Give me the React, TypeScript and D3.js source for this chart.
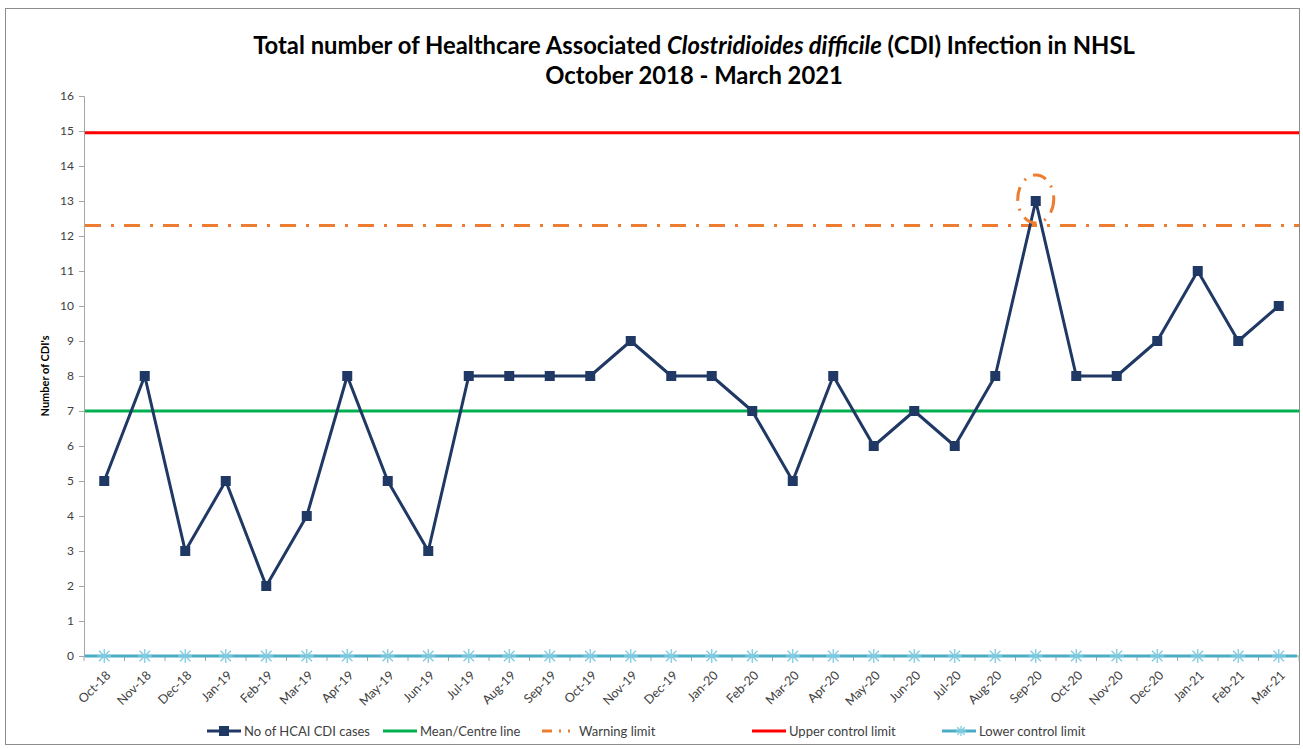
import React, { useEffect, useRef } from "react";
import * as d3 from "d3";

const months = [
  "Oct-18", "Nov-18", "Dec-18", "Jan-19", "Feb-19", "Mar-19", "Apr-19", "May-19",
  "Jun-19", "Jul-19", "Aug-19", "Sep-19", "Oct-19", "Nov-19", "Dec-19", "Jan-20",
  "Feb-20", "Mar-20", "Apr-20", "May-20", "Jun-20", "Jul-20", "Aug-20", "Sep-20",
  "Oct-20", "Nov-20", "Dec-20", "Jan-21", "Feb-21", "Mar-21",
];
const cases = [5, 8, 3, 5, 2, 4, 8, 5, 3, 8, 8, 8, 8, 9, 8, 8, 7, 5, 8, 6, 7, 6, 8, 13, 8, 8, 9, 11, 9, 10];
const meanLine = 7;
const warningLimit = 12.3;
const upperLimit = 14.95;
const lowerLimit = 0;
const yTicks = d3.range(0, 17);
const highlighted = "Sep-20";

const NAVY = "#1f3864";
const GREEN = "#00b050";
const ORANGE = "#ed7d31";
const RED = "#ff0000";
const BLUE = "#4bacc6";
const FONT = "Lato, 'Open Sans', sans-serif";

const App = () => {
  const ref = useRef<SVGSVGElement>(null);

  useEffect(() => {
    const width = 1303;
    const height = 749;
    const margin = { top: 96, right: 2, bottom: 93, left: 84 };

    const svg = d3.select(ref.current);
    svg.selectAll("*").remove();

    svg
      .append("rect")
      .attr("x", 5.5)
      .attr("y", 8.5)
      .attr("width", 1294)
      .attr("height", 736)
      .attr("fill", "white")
      .attr("stroke", "#8c8c8c")
      .attr("stroke-width", 1);

    const x = d3
      .scaleBand()
      .domain(months)
      .range([margin.left, width - margin.right - 2])
      .paddingInner(0)
      .paddingOuter(0);
    const cx = (m: string) => (x(m) as number) + x.bandwidth() / 2;

    const y = d3
      .scaleLinear()
      .domain([0, 16])
      .range([height - margin.bottom, margin.top]);

    // title
    const title = svg
      .append("text")
      .attr("x", 694)
      .attr("y", 54)
      .attr("text-anchor", "middle")
      .attr("font-family", FONT)
      .attr("font-weight", "bold")
      .attr("font-size", 23.8)
      .attr("fill", "#000");
    title.append("tspan").text("Total number of Healthcare Associated ");
    title.append("tspan").attr("font-style", "italic").text("Clostridioides difficile");
    title.append("tspan").text(" (CDI) Infection in NHSL");
    svg
      .append("text")
      .attr("x", 694)
      .attr("y", 84)
      .attr("text-anchor", "middle")
      .attr("font-family", FONT)
      .attr("font-weight", "bold")
      .attr("font-size", 23.8)
      .attr("fill", "#000")
      .text("October 2018 - March 2021");

    // y axis
    const yAxis = svg
      .append("g")
      .attr("transform", `translate(${margin.left},0)`)
      .call(d3.axisLeft(y).tickValues(yTicks).tickSize(5).tickSizeOuter(5).tickPadding(5));
    yAxis.select(".domain").attr("stroke", "#a6a6a6");
    yAxis.selectAll(".tick line").attr("stroke", "#a6a6a6");
    yAxis
      .selectAll(".tick text")
      .attr("font-family", FONT)
      .attr("font-size", 12)
      .attr("fill", "#404040");

    svg
      .append("text")
      .attr("transform", `translate(49,${376}) rotate(-90)`)
      .attr("text-anchor", "middle")
      .attr("font-family", FONT)
      .attr("font-weight", "bold")
      .attr("font-size", 11)
      .attr("fill", "#000")
      .text("Number of CDI's");

    // x axis
    const x0 = y(0);
    const xg = svg.append("g");
    xg.append("line")
      .attr("x1", margin.left)
      .attr("x2", width - margin.right - 2)
      .attr("y1", x0)
      .attr("y2", x0)
      .attr("stroke", "#a6a6a6");
    const bounds = months.map((m) => x(m) as number).concat([x.range()[1]]);
    xg.selectAll("line.tk")
      .data(bounds)
      .enter()
      .append("line")
      .attr("class", "tk")
      .attr("x1", (d) => d)
      .attr("x2", (d) => d)
      .attr("y1", x0)
      .attr("y2", x0 + 5)
      .attr("stroke", "#a6a6a6");
    xg.selectAll("text")
      .data(months)
      .enter()
      .append("text")
      .attr("transform", (d) => `translate(${cx(d) + 4},${x0 + 17}) rotate(-45)`)
      .attr("text-anchor", "end")
      .attr("dy", "0.35em")
      .attr("font-family", FONT)
      .attr("font-size", 12.5)
      .attr("fill", "#404040")
      .text((d) => d);

    const xl = x.range()[0];
    const xr = x.range()[1];

    // limit lines
    svg.append("line")
      .attr("x1", xl + 1).attr("x2", xr)
      .attr("y1", y(upperLimit)).attr("y2", y(upperLimit))
      .attr("stroke", RED).attr("stroke-width", 3);
    svg.append("line")
      .attr("x1", xl + 1).attr("x2", xr)
      .attr("y1", y(warningLimit)).attr("y2", y(warningLimit))
      .attr("stroke", ORANGE).attr("stroke-width", 3)
      .attr("stroke-dasharray", "16,10,3,10");
    svg.append("line")
      .attr("x1", xl + 1).attr("x2", xr)
      .attr("y1", y(meanLine)).attr("y2", y(meanLine))
      .attr("stroke", GREEN).attr("stroke-width", 3);

    // lower control limit with star markers
    svg.append("line")
      .attr("x1", xl + 1).attr("x2", xr - 2)
      .attr("y1", y(lowerLimit)).attr("y2", y(lowerLimit))
      .attr("stroke", BLUE).attr("stroke-width", 3);
    const star = (g: any, px: number, py: number, s: number) => {
      g.append("path")
        .attr("d", `M${px - s},${py}H${px + s}M${px - s * 0.75},${py - s * 0.75}L${px + s * 0.75},${py + s * 0.75}M${px - s * 0.75},${py + s * 0.75}L${px + s * 0.75},${py - s * 0.75}M${px},${py - s}V${py + s}`)
        .attr("stroke", "#7fcbe0")
        .attr("stroke-width", 1.3)
        .attr("fill", "none");
    };
    const stars = svg.append("g");
    months.forEach((m) => star(stars, cx(m), y(lowerLimit), 7));

    // cases line
    const line = d3
      .line<number>()
      .x((_, i) => cx(months[i]))
      .y((d) => y(d));
    svg.append("path")
      .datum(cases)
      .attr("d", line)
      .attr("fill", "none")
      .attr("stroke", NAVY)
      .attr("stroke-width", 3)
      .attr("stroke-linejoin", "round");
    svg.append("g")
      .selectAll("rect")
      .data(cases)
      .enter()
      .append("rect")
      .attr("x", (_, i) => cx(months[i]) - 5)
      .attr("y", (d) => y(d) - 5)
      .attr("width", 10)
      .attr("height", 10)
      .attr("fill", NAVY);

    // highlight ellipse
    const hi = months.indexOf(highlighted);
    svg.append("ellipse")
      .attr("cx", cx(highlighted))
      .attr("cy", y(cases[hi]) - 2)
      .attr("rx", 18)
      .attr("ry", 24)
      .attr("fill", "none")
      .attr("stroke", ORANGE)
      .attr("stroke-width", 3)
      .attr("stroke-dasharray", "14,8,2,8");

    // legend
    const legendY = 731;
    const lg = svg.append("g").attr("font-family", FONT).attr("font-size", 13).attr("fill", "#404040");
    const items = [
      { label: "No of HCAI CDI cases", x: 207, color: NAVY, kind: "square" },
      { label: "Mean/Centre line", x: 383, color: GREEN, kind: "line" },
      { label: "Warning limit", x: 542, color: ORANGE, kind: "dash" },
      { label: "Upper control limit", x: 752, color: RED, kind: "line" },
      { label: "Lower control limit", x: 942, color: BLUE, kind: "star" },
    ];
    items.forEach((it) => {
      const l = lg.append("line")
        .attr("x1", it.x).attr("x2", it.x + 34)
        .attr("y1", legendY).attr("y2", legendY)
        .attr("stroke", it.color).attr("stroke-width", 3);
      if (it.kind === "dash") l.attr("stroke-dasharray", "10,7,2,7,2,7");
      if (it.kind === "square") {
        lg.append("rect").attr("x", it.x + 12).attr("y", legendY - 5).attr("width", 10).attr("height", 10).attr("fill", NAVY);
      }
      if (it.kind === "star") star(lg, it.x + 19, legendY, 5);
      lg.append("text")
        .attr("x", it.x + 37)
        .attr("y", legendY)
        .attr("dy", "0.35em")
        .attr("fill", "#404040")
        .text(it.label);
    });
  }, []);

  return (
    <svg
      ref={ref}
      width={1303}
      height={749}
      style={{ display: "block", position: "absolute", left: 0, top: 0 }}
    />
  );
};

export default App;
